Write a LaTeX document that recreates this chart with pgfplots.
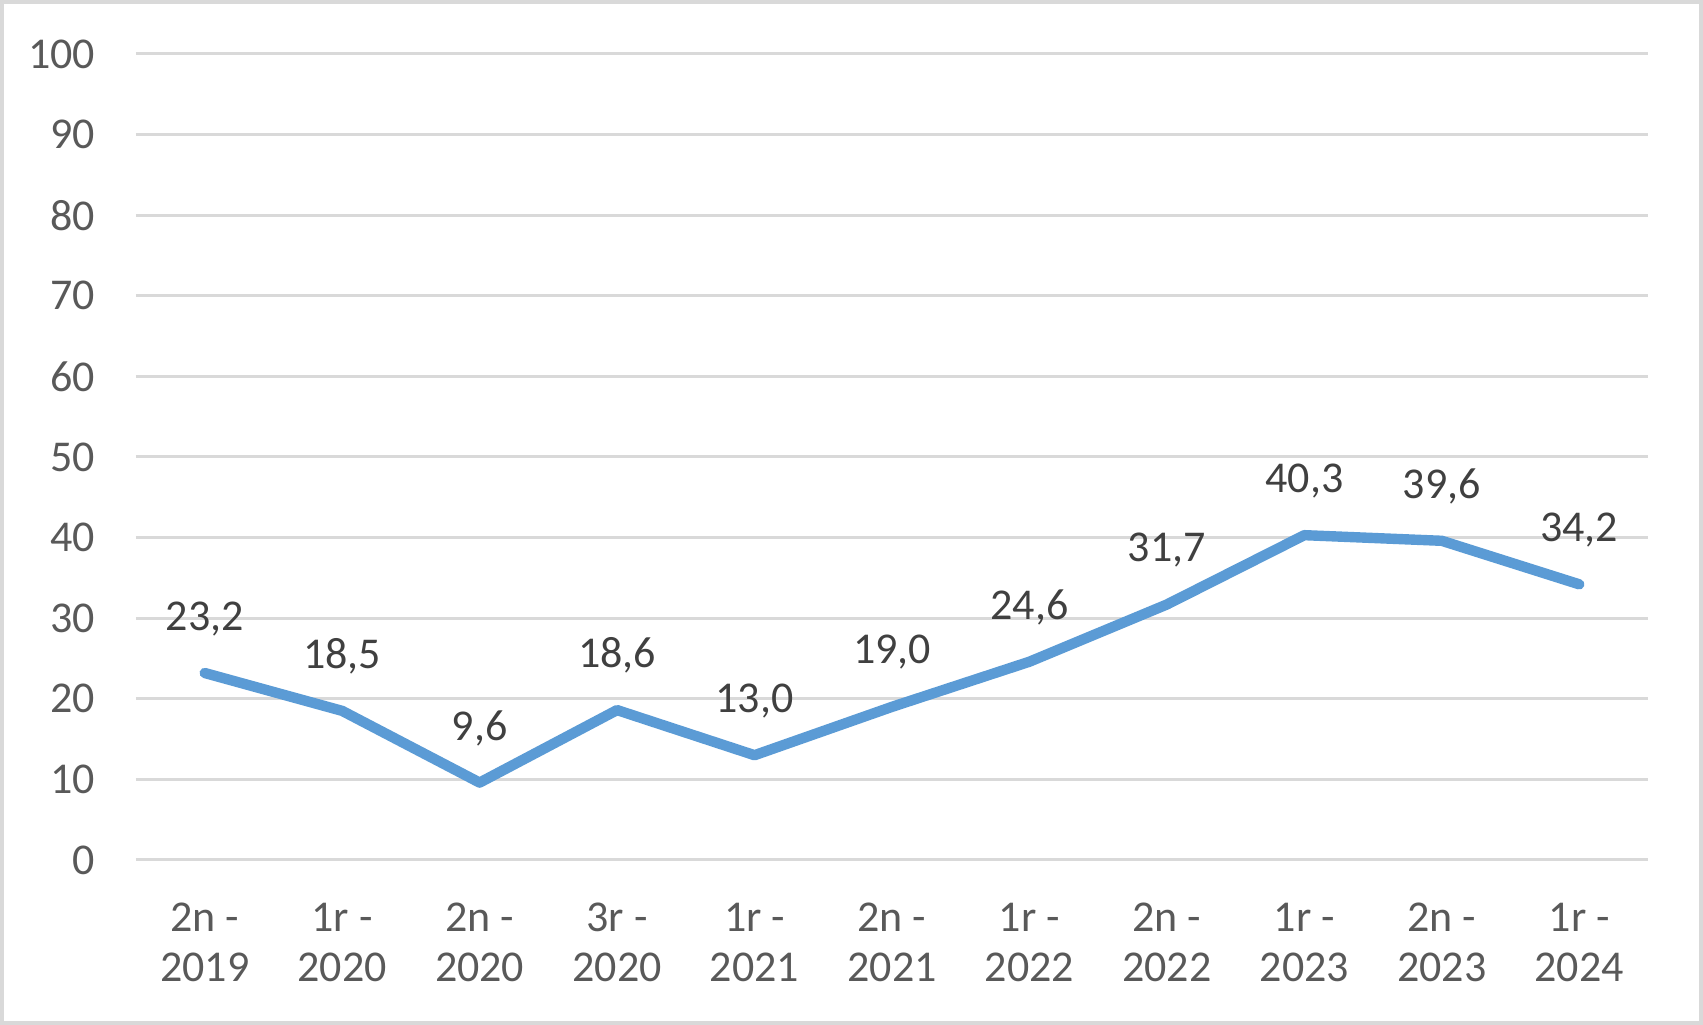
\documentclass[border=0pt]{standalone}
\usepackage{fontspec}
\setmainfont{Carlito}
\usepackage{pgfplots}
\pgfplotsset{compat=1.18}
\definecolor{linec}{HTML}{5B9BD5}
\definecolor{gridc}{HTML}{D9D9D9}
\definecolor{tickc}{HTML}{595959}
\definecolor{labc}{HTML}{404040}
\begin{document}
\begin{tikzpicture}
\useasboundingbox (-34pt,-41.25pt) rectangle (391.75pt,215pt);
\draw[gridc, line width=0.9pt] (-33.5pt,-40.7pt) rectangle (391.2pt,214.5pt);
\begin{axis}[
  at={(0,0)}, anchor=south west,
  scale only axis,
  width=378pt, height=201.5pt,
  xmin=-0.5, xmax=10.5,
  ymin=0, ymax=100,
  ytick={0,10,...,100},
  xtick={0,...,10},
  xticklabels={{2n -\\2019},{1r -\\2020},{2n -\\2020},{3r -\\2020},{1r -\\2021},{2n -\\2021},{1r -\\2022},{2n -\\2022},{1r -\\2023},{2n -\\2023},{1r -\\2024}},
  axis line style={draw=none},
  major tick length=0pt,
  ymajorgrids,
  grid style={gridc, line width=0.75pt},
  /pgf/number format/assume math mode=true,
  tick label style={font=\fontsize{11}{12.5}\selectfont, text=tickc},
  xticklabel style={align=center, inner sep=0pt, anchor=north, yshift=-10.5pt},
  yticklabel style={inner sep=0pt, anchor=east, xshift=-10pt},
  clip=false,
  nodes near coords={\pgfmathprintnumber[fixed, fixed zerofill, precision=1, use comma, assume math mode=true]{\pgfplotspointmeta}},
  every node near coord/.append style={font=\fontsize{11}{13}\selectfont, text=labc, anchor=center, yshift=13.6pt, inner sep=0pt},
]
\addplot[linec, line width=2.6pt, line cap=round, line join=round, mark=none] coordinates {
(0,23.2) (1,18.5) (2,9.6) (3,18.6) (4,13.0) (5,19.0) (6,24.6) (7,31.7) (8,40.3) (9,39.6) (10,34.2)
};
\end{axis}
\end{tikzpicture}
\end{document}
